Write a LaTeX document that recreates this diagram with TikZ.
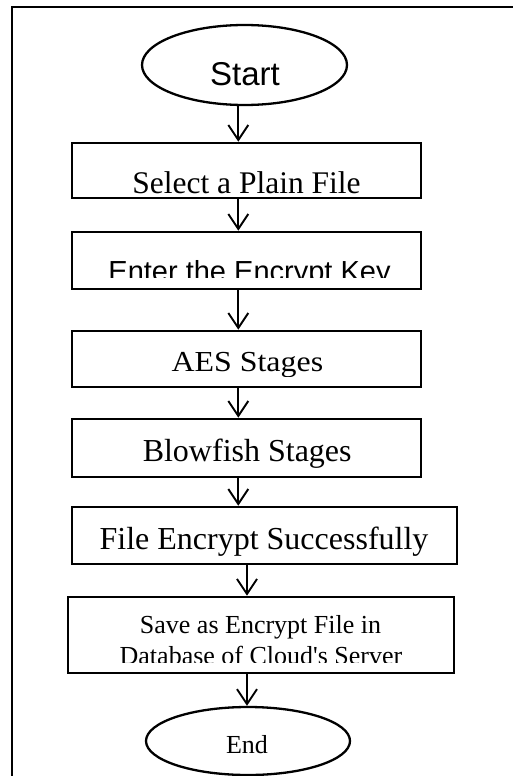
\documentclass[tikz,border=0pt]{standalone}
\usepackage{fontspec}
\setmainfont{Liberation Serif}[Ligatures=TeXOff]
\newfontfamily\arialf{Liberation Sans}
\usetikzlibrary{shapes.geometric,arrows.meta}

\tikzset{
  flowbox/.style={draw, line width=2.6pt, rectangle, inner sep=0pt},
  term/.style={draw, line width=2.3pt, ellipse, inner sep=0pt},
  lbl/.style={anchor=base, inner sep=0pt, text=black},
  arr/.style={line width=1.9pt, -{Straight Barb[length=15pt,width=20pt,line width=1.9pt]}}
}

\begin{document}
\begin{tikzpicture}[x=1pt,y=-1pt]
\useasboundingbox (0,0) rectangle (513,776);

% outer frame (top and left edges)
\draw[line width=2.2pt] (12,776) -- (12,7) -- (513,7);

% terminals
\node[term, minimum width=205pt, minimum height=80pt] (start) at (244.5,65) {};
\node[lbl, font=\arialf\fontsize{33}{38}\selectfont] (tstart) at (245,85) {Start};

\node[term, minimum width=204pt, minimum height=68pt] (end) at (248,741) {};
\node[lbl, font=\fontsize{26}{30}\selectfont] (tend) at (247,753) {End};

% process boxes
\node[flowbox, minimum width=349pt, minimum height=55pt] (b1) at (246.5,170.5) {};
\node[lbl, font=\fontsize{31.5}{36}\selectfont] (t1) at (246.5,193.3) {Select a Plain File};

\node[flowbox, minimum width=349pt, minimum height=57pt] (b2) at (246.5,260.5) {};
\begin{scope}
  \clip (72,232) rectangle (421,277);
  \node[lbl, font=\arialf\fontsize{29}{34}\selectfont] (t2) at (249.5,281) {Enter the Encrypt Key};
\end{scope}

\node[flowbox, minimum width=349pt, minimum height=56pt] (b3) at (246.5,359) {};
\begin{scope}
  \clip (72,331) rectangle (421,376);
  \node[lbl, font=\fontsize{29}{34}\selectfont] (t3) at (247.4,371.7) {\scalebox{1.1}[1]{AES Stages}};
\end{scope}

\node[flowbox, minimum width=349pt, minimum height=58pt] (b4) at (246.5,448) {};
\node[lbl, font=\fontsize{32}{36}\selectfont] (t4) at (247.2,461) {Blowfish Stages};

\node[flowbox, minimum width=385pt, minimum height=57pt] (b5) at (264.5,535.5) {};
\node[lbl, font=\fontsize{32}{36}\selectfont] (t5) at (264,549) {File Encrypt Successfully};

\node[flowbox, minimum width=386pt, minimum height=76pt] (b6) at (261,635) {};
\node[lbl, font=\fontsize{26}{30}\selectfont] (t6a) at (260.5,633) {Save as Encrypt File in};
\begin{scope}
  \clip (68,597) rectangle (454,662);
  \node[lbl, font=\fontsize{26}{30}\selectfont] (t6b) at (261,664) {Database of Cloud's Server};
\end{scope}

% connectors
\coordinate (ax1) at (238.3,0);
\coordinate (ax2) at (247,0);
\draw[arr] (start.south -| ax1) -- (b1.north -| ax1);
\draw[arr] (b1.south -| ax1) -- (b2.north -| ax1);
\draw[arr] (b2.south -| ax1) -- (b3.north -| ax1);
\draw[arr] (b3.south -| ax1) -- (b4.north -| ax1);
\draw[arr] (b4.south -| ax1) -- (b5.north -| ax1);
\draw[arr] (b5.south -| ax2) -- (b6.north -| ax2);
\draw[arr] (b6.south -| ax2) -- (end.north -| ax2);
\end{tikzpicture}
\end{document}
